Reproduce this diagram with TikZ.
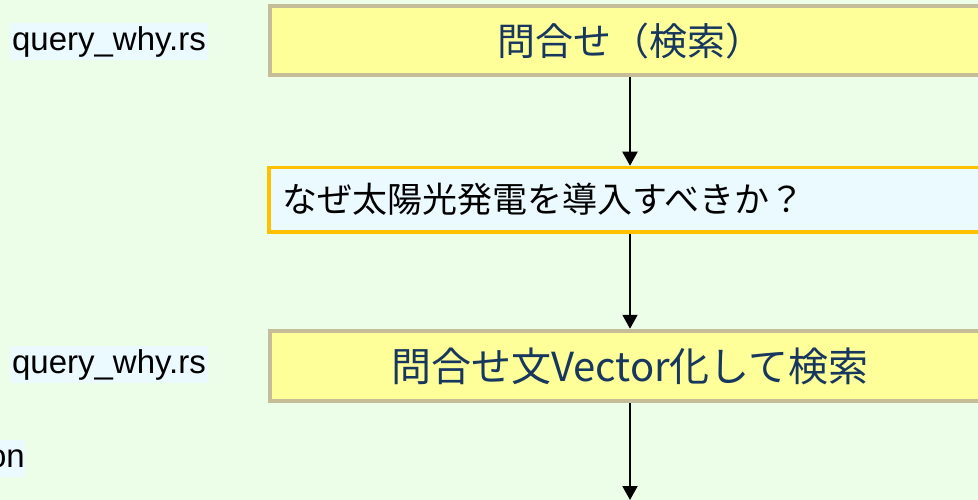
\documentclass[tikz,border=0pt]{standalone}
\usepackage{fontspec}
\setmainfont{Liberation Sans}
\newfontfamily\jpfont{Noto Sans CJK JP}
\usetikzlibrary{arrows.meta}

\definecolor{bggreen}{RGB}{236,254,232}
\definecolor{hlblue}{RGB}{235,250,255}
\definecolor{boxyellow}{RGB}{255,255,153}
\definecolor{boxtan}{RGB}{196,189,151}
\definecolor{boxorange}{RGB}{255,192,0}
\definecolor{textblue}{RGB}{23,55,94}

\tikzset{
  stepnote/.style={fill=hlblue,inner sep=0pt,minimum height=37pt,font=\fontsize{33}{37}\selectfont},
  searchbox/.style={draw=boxtan,line width=4pt,fill=boxyellow,minimum width=721pt,
    text=textblue,font=\jpfont\fontsize{38}{44}\selectfont},
  questionbox/.style={draw=boxorange,line width=3.5pt,fill=hlblue,inner xsep=13pt,
    text width=696pt,align=left,minimum height=64.5pt,font=\jpfont\fontsize{35}{40}\selectfont},
  flow/.style={line width=2pt,-{Triangle[width=15pt,length=14pt]}}
}

\begin{document}
\begin{tikzpicture}[x=1pt,y=-1pt]
	\useasboundingbox (0,0) rectangle (978,500);
	\clip (0,0) rectangle (978,500);
	\fill[bggreen] (0,0) rectangle (978,500);
	
	% file labels on the left
	\node[stepnote,minimum width=198pt] (file1) at (109,41.5) {query\_why.rs};
	\node[stepnote,minimum width=198pt] (file2) at (109,364.5) {query\_why.rs};
	\node[stepnote,anchor=east] (file3) at (25,458.5) {on};
	
	% steps
	\node[searchbox,minimum height=69.5pt] (ask) at (630,40.75) {問合せ（検索）};
	\node[questionbox] (why) at (630,199.75) {なぜ太陽光発電を導入すべきか？};
	\node[searchbox,minimum height=70.5pt,font=\jpfont\fontsize{40}{46}\selectfont] (vec) at (630,366) {問合せ文Vector化して検索};
	\coordinate (next) at (630,500);
	
	\draw[flow] (ask.south) -- (why.north);
	\draw[flow] (why.south) -- (vec.north);
	\draw[flow] (vec.south) -- (next);
\end{tikzpicture}
\end{document}
